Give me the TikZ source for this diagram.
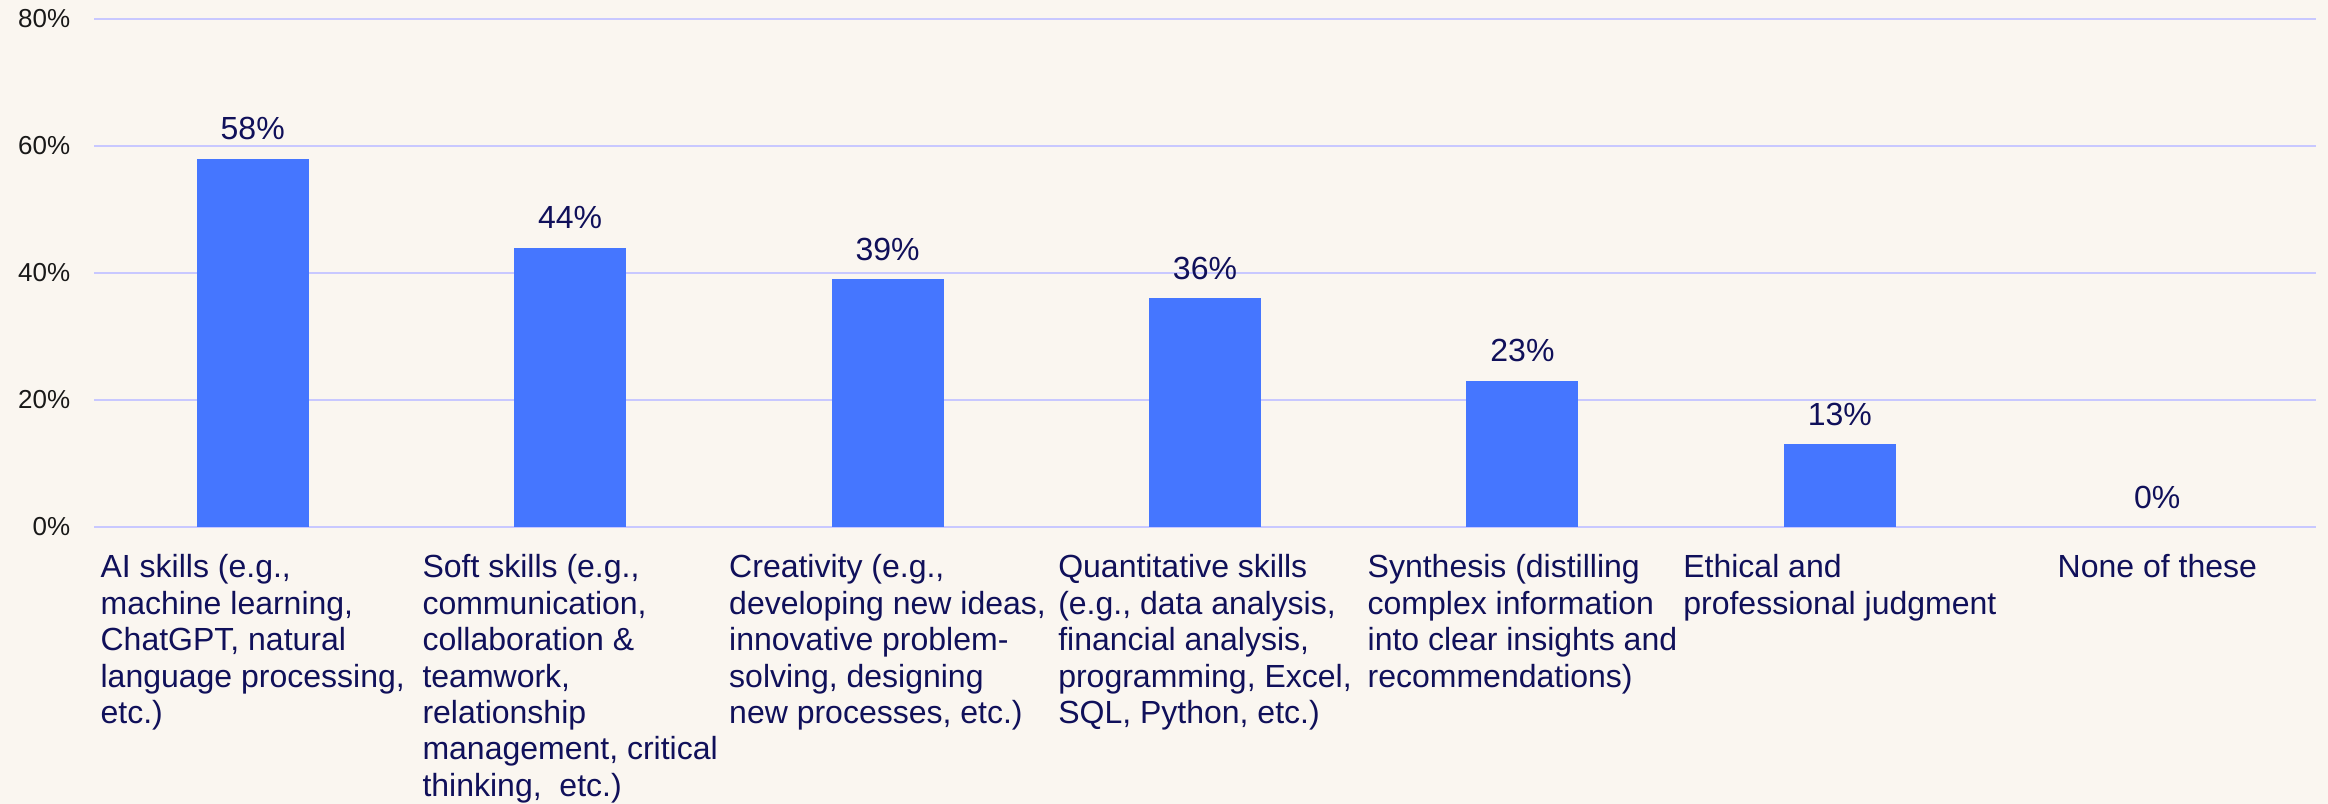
\documentclass[tikz,border=0pt]{standalone}
\usepackage{fontspec}
\setmainfont{Liberation Sans}
\definecolor{paper}{HTML}{FAF6F0}
\definecolor{barblue}{HTML}{4576FF}
\definecolor{gridblue}{HTML}{C8C8FF}
\definecolor{navy}{HTML}{10105A}
\begin{document}
\begin{tikzpicture}[x=0.25pt,y=-0.25pt,
grid line/.style={draw=gridblue,line width=0.5pt},
tick label/.style={anchor=east,inner sep=0pt,font=\fontsize{6.5}{7}\selectfont,text=black!90},
bar/.style={fill=barblue},
value label/.style={anchor=base,inner sep=0pt,font=\fontsize{8}{9}\selectfont,text=navy},
category label/.style={anchor=north,align=left,inner sep=0pt,font=\fontsize{8}{9.1}\selectfont,text=navy}]
	\fill[paper] (0,0) rectangle (2328,804);
	\useasboundingbox (0,0) rectangle (2328,804);
	\foreach \p in {0,20,...,80}{
		\draw[grid line] (94,527-6.35*\p) -- (2316,527-6.35*\p);
		\node[tick label] (tick\p) at (71,527-6.35*\p) {\p\%};
	}
	\foreach \i/\v/\txt in {
		1/58/{AI skills (e.g.,\\machine learning,\\ChatGPT, natural\\language processing,\\etc.)},
		2/44/{Soft skills (e.g.,\\communication,\\collaboration \&\\teamwork,\\relationship\\management, critical\\thinking,~ etc.)},
		3/39/{Creativity (e.g.,\\developing new ideas,\\innovative problem-\\solving, designing\\new processes, etc.)},
		4/36/{Quantitative skills\\(e.g., data analysis,\\financial analysis,\\programming, Excel,\\SQL, Python, etc.)},
		5/23/{Synthesis (distilling\\complex information\\into clear insights and\\recommendations)},
		6/13/{Ethical and\\professional judgment},
		7/0/{None of these}}{
		\pgfmathsetmacro\cx{94+317.43*(\i-0.5)}
		\ifnum\v>0
			\fill[bar] (\cx-56,527) rectangle (\cx+56,527-6.35*\v);
		\fi
		\node[value label] (val\i) at (\cx,527-6.35*\v-19) {\v\%};
		\node[category label] (cat\i) at (\cx,554) {\txt};
	}
\end{tikzpicture}
\end{document}
